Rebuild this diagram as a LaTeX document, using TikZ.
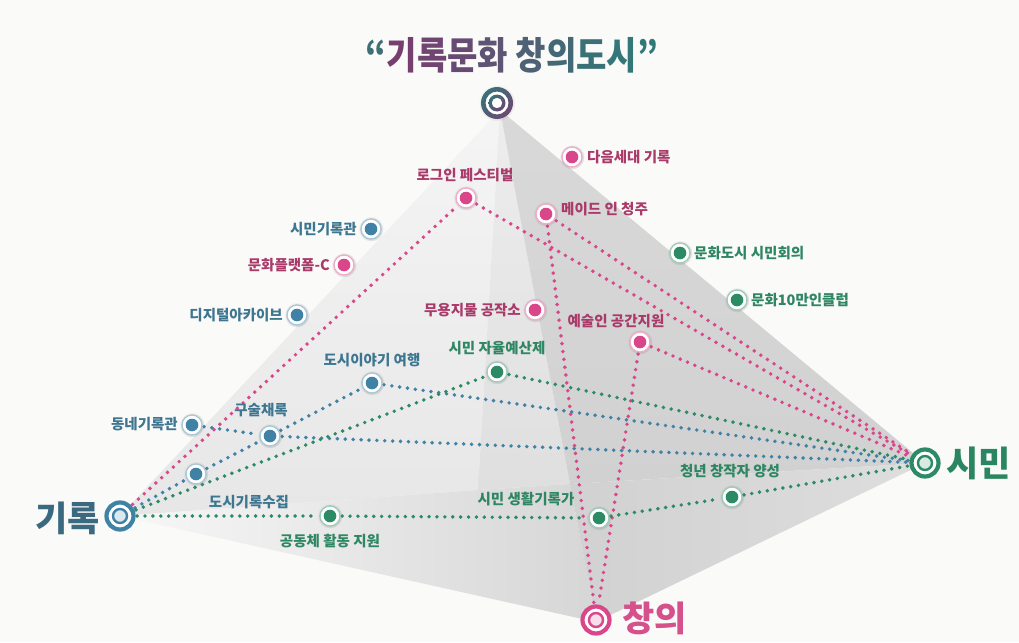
\documentclass[tikz,border=0pt]{standalone}
\usepackage{fontspec}
\setmainfont{Noto Sans CJK KR}
\usetikzlibrary{shadows,shadings}
\pgfdeclarelayer{bg}
\pgfdeclarelayer{ln}
\pgfsetlayers{bg,ln,main}
\definecolor{bgc}{HTML}{FAFAF8}
\definecolor{cblue}{HTML}{3F82A6}
\definecolor{cpink}{HTML}{D9468A}
\definecolor{cgreen}{HTML}{2C8A64}
\definecolor{tblue}{HTML}{3D7690}
\definecolor{tpink}{HTML}{A93A6A}
\definecolor{tgreen}{HTML}{2E8663}
\definecolor{lblue}{HTML}{3B6A80}
\definecolor{lpink}{HTML}{D6508C}
\definecolor{lgreen}{HTML}{2A8660}
\definecolor{tteal}{HTML}{2F7A78}
\definecolor{tpurp}{HTML}{7B3C70}
\begin{document}
\begin{tikzpicture}[x=1pt,y=-1pt,
  sn/.style={circle, minimum size=20pt, inner sep=0pt, fill=white, draw=#1!45, line width=1.3pt,
     circular drop shadow={shadow xshift=0pt, shadow yshift=0pt, shadow scale=1.25, opacity=.25},
     path picture={\fill[#1] (path picture bounding box.center) circle (6.3pt);}},
  bn/.style={circle, minimum size=27pt, inner sep=0pt, fill=white, draw=#1, line width=4.2pt,
     path picture={\draw[#1, line width=2.4pt, fill=#1!18] (path picture bounding box.center) circle (7pt);}},
  lab/.style={inner sep=1pt, font=\fontsize{14.5}{16}\selectfont\bfseries, text=#1},
  biglab/.style={inner sep=0pt, font=\fontsize{35}{38}\selectfont\bfseries, text=#1},
  dts/.style={draw=#1, line width=3.9pt, line cap=round, dash pattern=on 0pt off 7.9pt, shorten <=1.5pt, shorten >=1.5pt},
  ringshade/.style={upper left=tteal, upper right=tteal!55!tpurp, lower left=tteal!55!tpurp, lower right=tpurp, even odd rule},
]
\useasboundingbox (0,0) rectangle (1019,642);
\begin{pgfonlayer}{bg}
\fill[bgc] (0,0) rectangle (1019,642);
\coordinate (A) at (500,110);
\coordinate (L) at (120,516);
\coordinate (F) at (596,622);
\coordinate (R) at (925,463);
\coordinate (B) at (478,490);
\coordinate (Q) at (570,484);
\shade[top color=gray!8, bottom color=gray!19] (A) -- (L) -- (B) -- cycle;
\shade[top color=gray!14, bottom color=gray!25] (A) -- (B) -- (Q) -- cycle;
\shade[top color=gray!30, bottom color=gray!36] (A) -- (Q) -- (R) -- cycle;
\shade[left color=gray!6, right color=gray!32] (L) -- (B) -- (Q) -- (F) -- cycle;
\shade[left color=gray!36, right color=gray!26] (Q) -- (R) -- (F) -- cycle;
\end{pgfonlayer}

% title
\node[inner sep=0pt, font=\fontsize{33}{36}\selectfont\bfseries] (title) at (512,55)
  {\scalebox{1}[1.15]{\textcolor{tteal!80!tpurp}{“}\textcolor{tpurp!95!tteal}{기}\textcolor{tpurp!85!tteal}{록}\textcolor{tpurp!75!tteal}{문}\textcolor{tpurp!62!tteal}{화} \textcolor{tpurp!40!tteal}{창}\textcolor{tpurp!28!tteal}{의}\textcolor{tpurp!15!tteal}{도}\textcolor{tpurp!5!tteal}{시}\textcolor{tteal}{”}}};

% apex node
\node[circle, minimum size=32pt, inner sep=0pt, fill=white,
  circular drop shadow={shadow xshift=0pt, shadow yshift=0pt, shadow scale=1.15, opacity=.15}] (top) at (497,103) {};
\shade[ringshade] (top.center) circle (16) circle (11.5);
\shade[ringshade] (top.center) circle (8.5) circle (5.3);

% big nodes
\node[bn=cblue] (gr) at (120,516) {};
\node[bn=cgreen] (sm) at (925,463) {};
\node[bn=cpink] (cy) at (596,620) {};
\node[biglab=lblue, anchor=east] (lgr) at (100,518) {기록};
\node[biglab=lgreen, anchor=west] (lsm) at (946,463) {시민};
\node[biglab=lpink, anchor=west] (lcy) at (622,618) {창의};

% small nodes
\node[sn=cpink] (n1) at (572,157) {};
\node[sn=cpink] (n2) at (466,198) {};
\node[sn=cpink] (n3) at (546,214) {};
\node[sn=cblue] (n4) at (371,229) {};
\node[sn=cpink] (n5) at (344,265) {};
\node[sn=cblue] (n6) at (297,315) {};
\node[sn=cgreen] (n7) at (680,253) {};
\node[sn=cgreen] (n8) at (737,300) {};
\node[sn=cpink] (n9) at (535,310) {};
\node[sn=cpink] (n10) at (640,342) {};
\node[sn=cgreen] (n11) at (497,372) {};
\node[sn=cblue] (n12) at (372,383) {};
\node[sn=cblue] (n13) at (192,425) {};
\node[sn=cblue] (n14) at (270,436) {};
\node[sn=cblue] (n15) at (196,474) {};
\node[sn=cgreen] (n16) at (330,516) {};
\node[sn=cgreen] (n17) at (599,518) {};
\node[sn=cgreen] (n18) at (732,497) {};

% labels
\node[lab=tpink, anchor=west] (l1) at (586,157) {다음세대 기록};
\node[lab=tpink] (l2) at (465,175) {로그인 페스티벌};
\node[lab=tpink, anchor=west] (l3) at (560,209) {메이드 인 청주};
\node[lab=tblue, anchor=east] (l4) at (358,229) {시민기록관};
\node[lab=tpink, anchor=east] (l5) at (331,265) {문화플랫폼-C};
\node[lab=tblue, anchor=east] (l6) at (284,315) {디지털아카이브};
\node[lab=tgreen, anchor=west] (l7) at (693,253) {문화도시 시민회의};
\node[lab=tgreen, anchor=west] (l8) at (750,300) {문화10만인클럽};
\node[lab=tpink, anchor=east] (l9) at (522,310) {무용지물 공작소};
\node[lab=tpink] (l10) at (616,321) {예술인 공간지원};
\node[lab=tgreen] (l11) at (497,348) {시민 자율예산제};
\node[lab=tblue] (l12) at (372,360) {도시이야기 여행};
\node[lab=tblue, anchor=east] (l13) at (179,424) {동네기록관};
\node[lab=tblue] (l14) at (261,410) {구술채록};
\node[lab=tblue] (l15) at (249,502) {도시기록수집};
\node[lab=tgreen] (l16) at (330,541) {공동체 활동 지원};
\node[lab=tgreen] (l17) at (526,499) {시민 생활기록가};
\node[lab=tgreen] (l18) at (730,471) {청년 창작자 양성};

% connectors
\begin{pgfonlayer}{ln}
\draw[dts=cpink] (gr) -- (n2);
\draw[dts=cpink] (n2) -- (sm);
\draw[dts=cpink] (n3) -- (sm);
\draw[dts=cpink] (n3) -- (cy);
\draw[dts=cpink] (n10) -- (sm);
\draw[dts=cpink] (n10) -- (cy);
\draw[dts=cblue] (gr) -- (n15);
\draw[dts=cblue] (n15) -- (n14);
\draw[dts=cblue] (n14) -- (n12);
\draw[dts=cblue] (n12) -- (sm);
\draw[dts=cblue] (n13) -- (n14);
\draw[dts=cblue] (n14) -- (sm);
\draw[dts=cgreen] (gr) -- (n11);
\draw[dts=cgreen] (n11) -- (sm);
\draw[dts=cgreen] (gr) -- (n16);
\draw[dts=cgreen] (n16) -- (n17);
\draw[dts=cgreen] (n17) -- (n18);
\draw[dts=cgreen] (n18) -- (sm);
\end{pgfonlayer}
\end{tikzpicture}
\end{document}
